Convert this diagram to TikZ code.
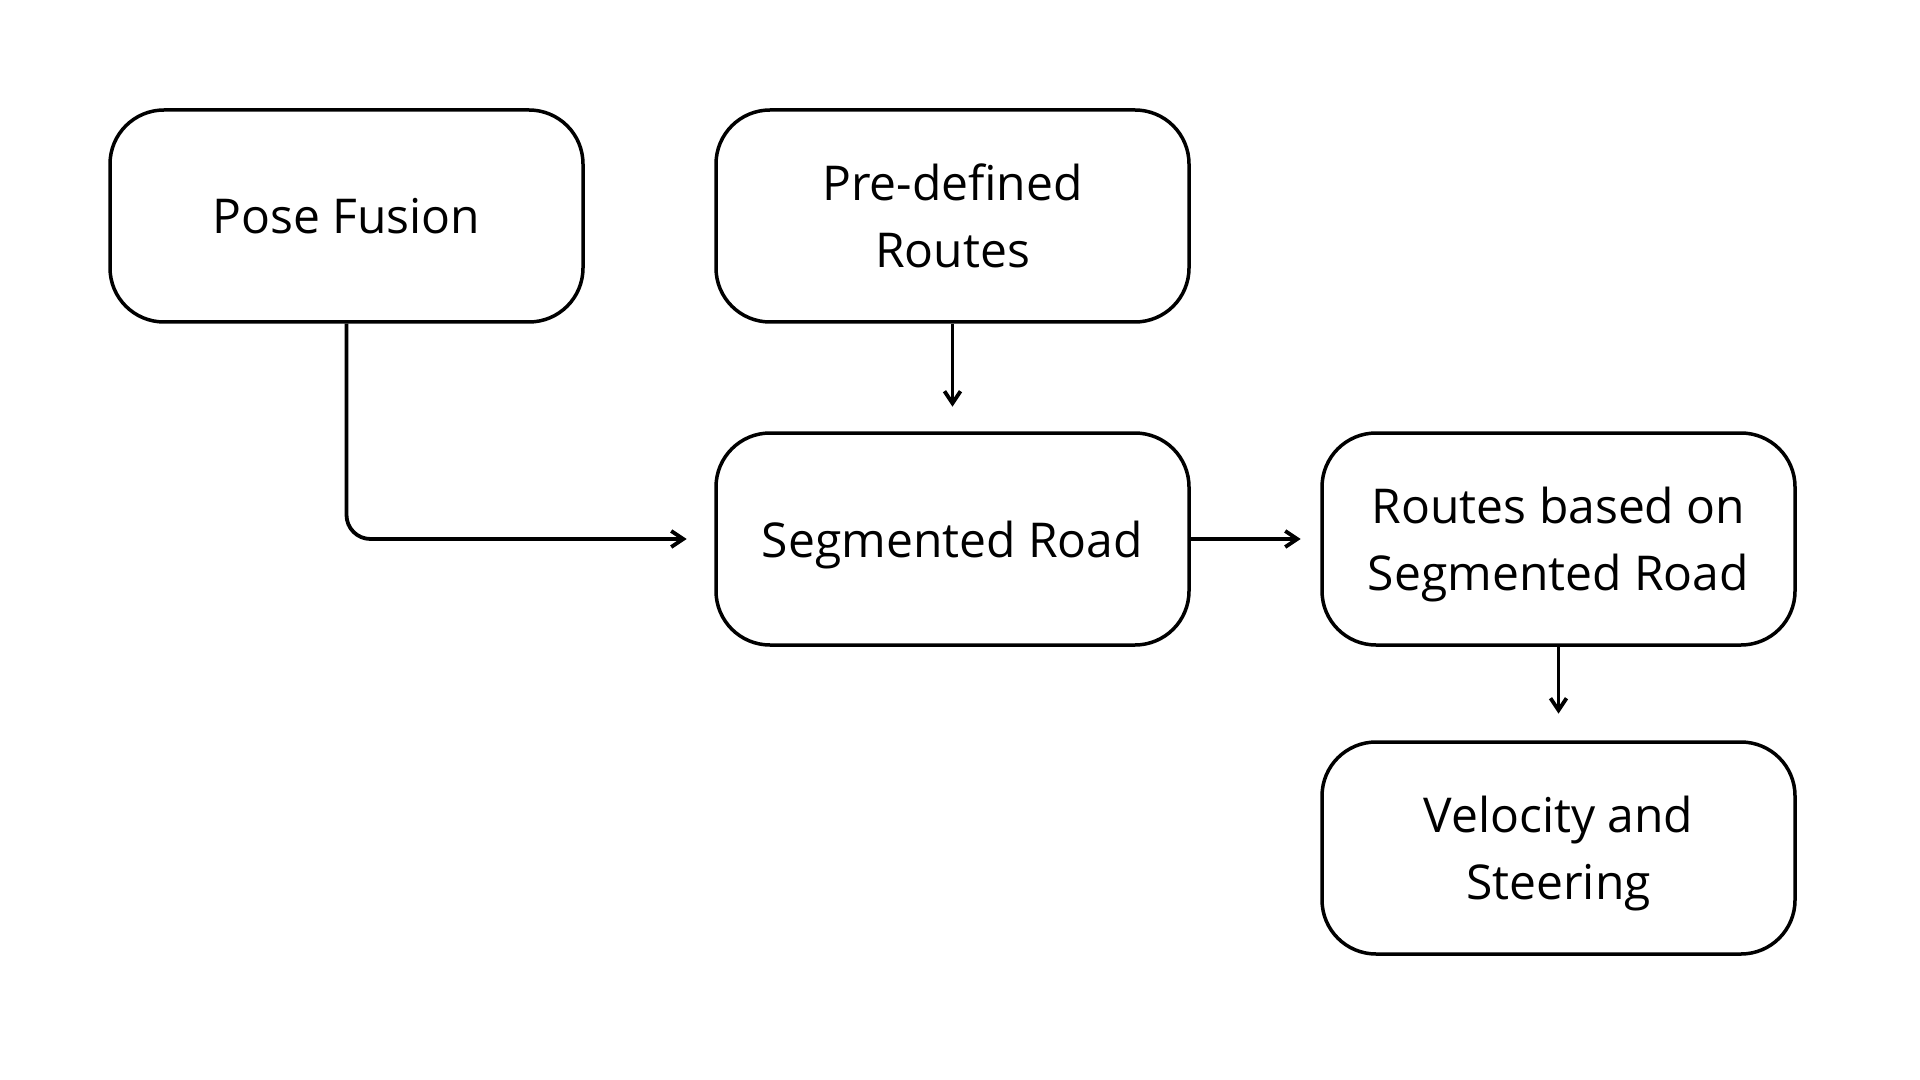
\documentclass[tikz,border=0pt]{standalone}
\usepackage{fontspec}
\setmainfont{Open Sans}
\usetikzlibrary{arrows.meta,positioning}

\begin{document}
\begin{tikzpicture}[x=0.5pt,y=-0.5pt]

\tikzset{stage/.style={
    draw, line width=1.75pt,
    rounded corners=27pt,
    minimum width=236.5pt,
    minimum height=106pt,
    align=center,
    font=\fontsize{24pt}{33.7pt}\selectfont,
    inner sep=0pt
  },
  single/.style={text depth=0pt},
  flow/.style={
    line width=1.9pt,
    -{Straight Barb[length=6pt,width=8pt,line width=1.9pt]}
  }
}

\useasboundingbox (0,0) rectangle (1920,1080);

\node[stage, single] (pose) at (346.5,216) {Pose Fusion};
\node[stage] (routes) at (952.5,216) {Pre-defined\\Routes};
\node[stage, single] (road) at (952.5,539) {Segmented Road};
\node[stage] (segroutes) at (1558.5,539) {Routes based on\\\smash{Segmented Road}};
\node[stage] (control) at (1558.5,848) {Velocity and\\\smash{Steering}};

\draw[flow, rounded corners=12pt, shorten >=13.8pt] (pose.south) |- (road.west);
\draw[flow, shorten >=12.3pt] (routes) -- (road);
\draw[flow, shorten >=9.8pt] (road) -- (segroutes);
\draw[flow, shorten >=13.3pt] (segroutes) -- (control);

\end{tikzpicture}
\end{document}
